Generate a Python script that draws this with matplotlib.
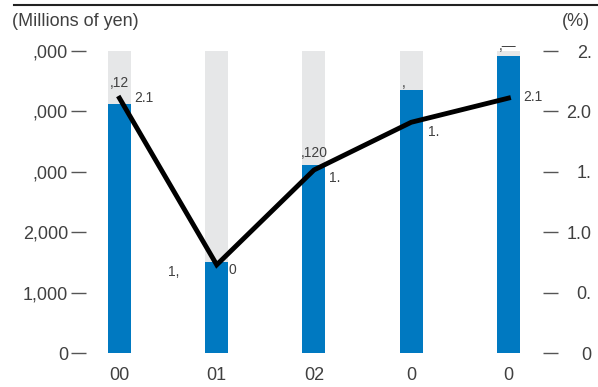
import matplotlib.pyplot as plt
import numpy as np

# data
years = ["00", "01", "02", "0", "0"]
sales = [4125, 1510, 3120, 4360, 4925]          # millions of yen (left axis)
bar_labels = [",12", "1,", ",120", ",", ",\u2014"]
ratio = [2.11, 0.73, 1.515, 1.91, 2.11]          # % (right axis)
ratio_labels = ["2.1", "0", "1.", "1.", "2.1"]
left_ticks = [0, 1000, 2000, 3000, 4000, 5000]
left_ticklabels = ["0", "1,000", "2,000", ",000", ",000", ",000"]
right_ticks = [0, 0.5, 1.0, 1.5, 2.0, 2.5]
right_ticklabels = ["0", "0.", "1.0", "1.", "2.0", "2."]

plt.rcParams["font.family"] = ["Liberation Sans Narrow", "Liberation Sans", "DejaVu Sans"]
txt = "#404040"
blue = "#0079c1"
grey = "#e6e7e8"

fig = plt.figure(figsize=(5.98, 3.87), dpi=100)
ax = fig.add_axes([86 / 598, 34 / 387, 457 / 598, 302 / 387])
x = np.arange(len(years))
w = 0.237

ax.bar(x, [5000] * len(x), width=w, color=grey, zorder=1)
ax.bar(x, sales, width=w, color=blue, zorder=2)
ax.set_xlim(-0.344, 4.355)
ax.set_ylim(0, 5000)
ax.set_yticks(left_ticks)
ax.set_yticklabels(left_ticklabels)
ax.set_xticks(x)
ax.set_xticklabels(years)
for s in ax.spines.values():
    s.set_visible(False)
ax.tick_params(axis="y", direction="out", length=11, width=1, color="#555555",
               labelsize=13, labelcolor=txt, pad=2)
ax.tick_params(axis="x", length=0, labelsize=13, labelcolor=txt, pad=10)

ax2 = ax.twinx()
ax2.set_ylim(0, 2.5)
ax2.plot(x, ratio, color="black", linewidth=3.5, solid_joinstyle="miter", zorder=5)
ax2.set_yticks(right_ticks)
ax2.set_yticklabels(right_ticklabels, ha="right")
for s in ax2.spines.values():
    s.set_visible(False)
ax2.tick_params(axis="y", direction="out", length=11, width=1, color="#555555",
                labelsize=13, labelcolor=txt, pad=24)

# bar value labels (offsets in pixels)
bar_off = [(0, 21), (-43, -10), (0, 12), (-8, 7), (-1, 10)]
for xi, v, lab, off in zip(x, sales, bar_labels, bar_off):
    ax.annotate(lab, (xi, v), xytext=off, textcoords="offset pixels",
                ha="center", va="center", fontsize=10, color=txt, zorder=6)

line_off = [(24, 0), (16, -5), (21, -8), (22, -10), (24, 1)]
for xi, v, lab, off in zip(x, ratio, ratio_labels, line_off):
    ax2.annotate(lab, (xi, v), xytext=off, textcoords="offset pixels",
                 ha="center", va="center", fontsize=10, color=txt, zorder=6)

fig.text(12 / 598, 1 - 22 / 387, "(Millions of yen)", fontsize=13, color=txt,
         ha="left", va="center")
fig.text(590 / 598, 1 - 22 / 387, "(%)", fontsize=13, color=txt,
         ha="right", va="center")
fig.add_artist(plt.Line2D([14 / 598, 1], [1 - 5 / 387, 1 - 5 / 387],
                          color="#222222", linewidth=1.5))

fig.savefig("out.png", dpi=100)
